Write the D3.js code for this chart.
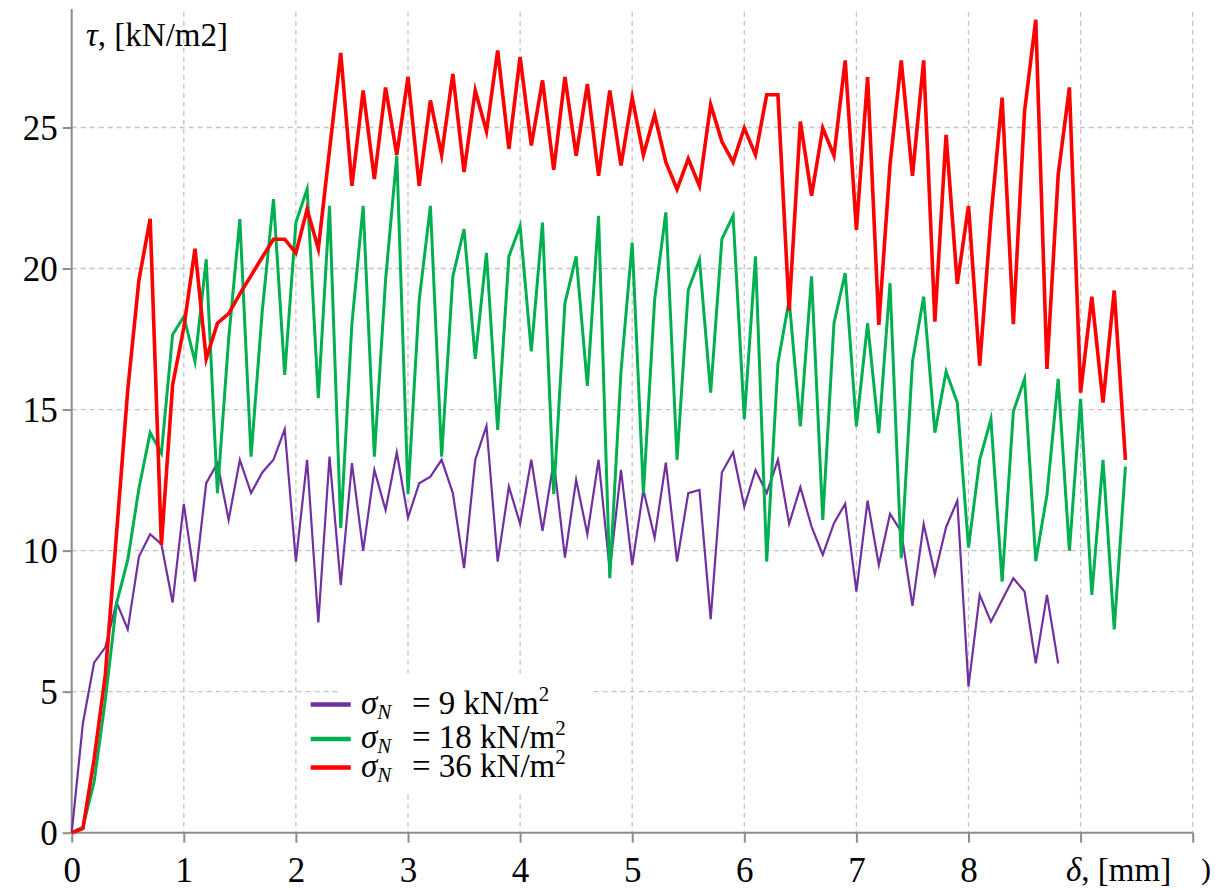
<!DOCTYPE html>
<html>
<head>
<meta charset="utf-8">
<script src="https://cdn.jsdelivr.net/npm/d3@7"></script>
<style>
  body { margin: 0; background: #fff; }
  svg text { font-family: "Liberation Serif", "Times New Roman", Times, "DejaVu Serif", serif; fill: #000; }
</style>
</head>
<body>
<svg width="1218" height="890"></svg>
<script>
///////////////////////////////////////////
// Data (tau in kN/m2, sampled every 0.1 mm of delta)
var step = 0.1;

var tau9 = [0, 3.88, 6.03, 6.57, 8.17, 7.21, 9.79, 10.58, 10.23, 8.16,
  11.66, 8.9, 12.39, 13.1, 11.09, 13.22, 12.04, 12.77, 13.22, 14.3,
  9.61, 13.22, 7.45, 13.33, 8.78, 13.1, 9.99, 12.86, 11.44, 13.48,
  11.17, 12.39, 12.62, 13.22, 12.04, 9.38, 13.22, 14.42, 9.61, 12.27,
  10.95, 13.22, 10.7, 13.16, 9.75, 12.51, 10.58, 13.22, 9.3, 12.86,
  9.49, 12.15, 10.46, 13.12, 9.61, 12.04, 12.15, 7.57, 12.77, 13.48,
  11.56, 12.86, 12.04, 13.22, 10.95, 12.25, 10.85, 9.85, 10.97, 11.66,
  8.55, 11.77, 9.49, 11.3, 10.67, 8.04, 10.94, 9.16, 10.83, 11.77,
  5.18, 8.43, 7.48, 8.25, 9.02, 8.55, 6.0, 8.43, 6.0];

var tau18 = [0, 0.2, 1.8, 4.7, 8.13, 9.67, 12.21, 14.18, 13.45, 17.65,
  18.3, 16.7, 20.33, 12.04, 17.5, 21.75, 13.33, 18.5, 22.46, 16.23,
  21.63, 22.82, 15.4, 22.22, 10.8, 18.06, 22.22, 13.33, 19.6, 24.0,
  12.0, 18.89, 22.22, 13.33, 19.72, 21.4, 16.8, 20.55, 14.28, 20.43,
  21.51, 17.06, 21.63, 12.0, 18.77, 20.43, 15.84, 21.87, 9.02, 16.35,
  20.92, 12.04, 18.89, 21.99, 13.22, 19.24, 20.31, 15.6, 21.04, 21.87,
  14.66, 20.43, 9.61, 16.64, 18.89, 14.4, 19.72, 11.09, 18.06, 19.84,
  14.4, 18.06, 14.16, 19.48, 9.73, 16.7, 19.0, 14.18, 16.35, 15.25,
  10.11, 13.22, 14.66, 8.9, 14.93, 16.09, 9.63, 11.98, 16.09, 9.99,
  15.38, 8.43, 13.22, 7.21, 12.98];

var tau36 = [0, 0.15, 2.6, 5.6, 10.6, 15.7, 19.6, 21.76, 10.2, 15.87,
  17.9, 20.7, 16.8, 18.06, 18.4, 19.1, 19.75, 20.4, 21.04, 21.04,
  20.55, 22.1, 20.7, 24.2, 27.64, 22.93, 26.31, 23.17, 26.42, 24.03,
  26.79, 22.93, 25.96, 24.03, 26.9, 23.42, 26.31, 24.86, 27.73, 24.24,
  27.5, 24.36, 26.67, 23.5, 26.79, 24.0, 26.54, 23.29, 26.31, 23.65,
  26.06, 24.03, 25.45, 23.77, 22.81, 23.89, 22.93, 25.81, 24.5, 23.77,
  24.98, 24.03, 26.16, 26.16, 18.51, 25.21, 22.58, 24.98, 24.0, 27.38,
  21.37, 26.79, 18.0, 23.68, 27.38, 23.29, 27.38, 18.12, 24.74, 19.46,
  22.22, 16.56, 21.8, 26.06, 18.03, 25.57, 28.82, 16.44, 23.32, 26.42,
  15.6, 19.0, 15.25, 19.22, 13.22];

var sigmaLabels = ["9", "18", "36"];
var xTicks = [0, 1, 2, 3, 4, 5, 6, 7, 8, 9, 10];
var xTickLabels = ["0", "1", "2", "3", "4", "5", "6", "7", "8", "", ""];
var yTicks = [0, 5, 10, 15, 20, 25];

///////////////////////////////////////////
// Layout
var x0 = 71.7, x1 = 1192.7, y0 = 832.7, yTop = 9;
var colors = ["#7030A0", "#00B050", "#FF0000"];
var widths = [2.2, 3, 3.6];
var serif = "'Liberation Serif', 'Times New Roman', Times, 'DejaVu Serif', serif";

var x = d3.scaleLinear().domain([0, 10]).range([x0, x1]);
var y = d3.scaleLinear().domain([0, 29.2]).range([y0, yTop]);

var svg = d3.select("svg");
var grid = svg.append("g").attr("class", "grid");

// dashed gridlines
grid.selectAll("line.h").data(yTicks.slice(1)).enter().append("line")
  .attr("x1", x(0)).attr("x2", x(10))
  .attr("y1", function(d){ return y(d); }).attr("y2", function(d){ return y(d); });
grid.selectAll("line.v").data(xTicks.slice(1)).enter().append("line")
  .attr("x1", function(d){ return x(d); }).attr("x2", function(d){ return x(d); })
  .attr("y1", y(29.1)).attr("y2", y(0));
grid.selectAll("line")
  .attr("stroke", "#c4c4c4").attr("stroke-width", 1.3).attr("stroke-dasharray", "5,4");

// axes
var xAxis = d3.axisBottom(x).tickValues(xTicks).tickSize(10)
  .tickFormat(function(d, i){ return xTickLabels[i]; });
var yAxis = d3.axisLeft(y).tickValues(yTicks).tickSize(9).tickFormat(d3.format("d"));

var gx = svg.append("g").attr("transform", "translate(0," + y0 + ")").call(xAxis);
var gy = svg.append("g").attr("transform", "translate(" + x0 + ",0)").call(yAxis);
gx.select(".domain").attr("d", "M" + x0 + ",0H" + x1);
gy.select(".domain").attr("d", "M0," + y0 + "V" + yTop);
[gx, gy].forEach(function(g){
  g.attr("font-family", serif).attr("font-size", 35);
  g.selectAll(".domain, .tick line").attr("stroke", "#8c8c8c").attr("stroke-width", 2);
  g.selectAll(".tick text").attr("fill", "#000");
});
gx.selectAll(".tick text").attr("dy", null).attr("y", 49);
gy.selectAll(".tick text").attr("x", -14).attr("dy", "0.34em");

// series
var line = d3.line()
  .x(function(d, i){ return x(i * step); })
  .y(function(d){ return y(d); });

[tau9, tau18, tau36].forEach(function(s, k){
  svg.append("path").datum(s)
    .attr("d", line)
    .attr("fill", "none")
    .attr("stroke", colors[k])
    .attr("stroke-width", widths[k])
    .attr("stroke-linejoin", "miter")
    .attr("stroke-miterlimit", 6);
});

// axis titles
var yt = svg.append("text").attr("x", 86).attr("y", 46).style("font-size", "33px");
yt.append("tspan").style("font-style", "italic").text("τ");
yt.append("tspan").text(", [kN/m2]");

svg.append("rect").attr("x", 1062).attr("y", 852).attr("width", 114).attr("height", 38).attr("fill", "#fff");
var xt = svg.append("text").attr("x", 1066).attr("y", 881).style("font-size", "33px");
xt.append("tspan").style("font-style", "italic").text("δ");
xt.append("tspan").text(", [mm]");
svg.append("text").attr("x", 1201).attr("y", 879).style("font-size", "30px").text(")");

// legend
var legend = svg.append("g");
legend.append("rect").attr("x", 342).attr("y", 677).attr("width", 250).attr("height", 115).attr("fill", "#fff");
var rowY = [704.5, 739, 767.5];
sigmaLabels.forEach(function(lab, k){
  var g = legend.append("g");
  g.append("line").attr("x1", 310.7).attr("x2", 350.7)
    .attr("y1", rowY[k]).attr("y2", rowY[k])
    .attr("stroke", colors[k]).attr("stroke-width", 4.5);
  var t = g.append("text").attr("x", 361).attr("y", rowY[k] + 9).style("font-size", "33px");
  t.append("tspan").style("font-style", "italic").text("σ");
  t.append("tspan").style("font-style", "italic").style("font-size", "21px").attr("dy", 5).text("N");
  t.append("tspan").attr("dy", -5).attr("x", 412).text("= " + lab + " kN/m");
  t.append("tspan").style("font-size", "21px").attr("dy", -13).text("2");
});
</script>
</body>
</html>
